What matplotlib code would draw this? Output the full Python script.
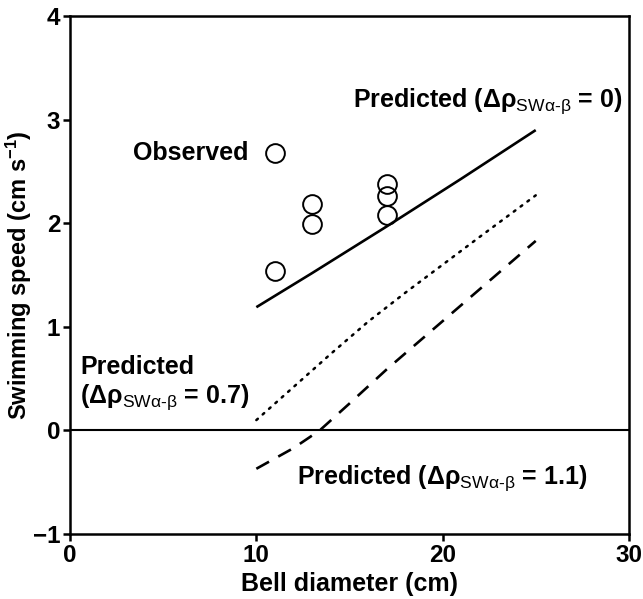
import matplotlib
matplotlib.use("Agg")
import matplotlib.pyplot as plt

plt.rcParams['font.family'] = ['Liberation Sans', 'DejaVu Sans']
plt.rcParams['mathtext.fontset'] = 'custom'
plt.rcParams['mathtext.rm'] = 'Liberation Sans'
plt.rcParams['mathtext.it'] = 'Liberation Sans'
plt.rcParams['mathtext.bf'] = 'Liberation Sans:bold'

# Observed data
obs_x = [11, 11, 13, 13, 17, 17, 17]
obs_y = [2.68, 1.54, 2.19, 1.99, 2.38, 2.26, 2.08]

# Predicted curves
pred0_x = [10, 13, 17, 21, 25]
pred0_y = [1.19, 1.52, 1.97, 2.43, 2.90]

pred07_x = [10, 12, 14, 16, 18, 20, 22, 25]
pred07_y = [0.10, 0.42, 0.74, 1.05, 1.33, 1.60, 1.87, 2.27]

pred11_x = [10, 12, 13.4, 15, 17, 19, 21, 23, 25]
pred11_y = [-0.37, -0.17, 0.0, 0.26, 0.59, 0.90, 1.21, 1.52, 1.83]

xticks = [0, 10, 20, 30]
yticks = [-1, 0, 1, 2, 3, 4]

fig = plt.figure(figsize=(6.43, 5.99), dpi=100)
ax = fig.add_axes([0.109, 0.1085, 0.869, 0.8645])

ax.axhline(0, color='black', lw=1.5, zorder=1)
ax.plot(pred0_x, pred0_y, color='black', lw=1.9, solid_capstyle='butt')
ax.plot(pred07_x, pred07_y, color='black', lw=1.8, linestyle=(0, (0.8, 2.6)), dash_capstyle='round')
ax.plot(pred11_x, pred11_y, color='black', lw=1.9, linestyle=(0, (5.5, 4.0)))
ax.plot(obs_x, obs_y, linestyle='none', marker='o', markersize=13.5,
        markerfacecolor='none', markeredgecolor='black', markeredgewidth=1.4)

ax.set_xlim(0, 30)
ax.set_ylim(-1, 4)
ax.set_xticks(xticks)
ax.set_yticks(yticks)
for s in ax.spines.values():
    s.set_linewidth(1.8)
ax.tick_params(axis='both', direction='out', length=5, width=1.8, labelsize=17.5,
               top=False, right=False, pad=2)
for lab in ax.get_xticklabels() + ax.get_yticklabels():
    lab.set_fontweight('bold')

ax.set_xlabel('Bell diameter (cm)', fontsize=18, fontweight='bold')
ax.set_ylabel(r'Swimming speed (cm s$^{\mathbf{-1}}$)', fontsize=17, fontweight='bold')
ax.xaxis.set_label_coords(0.5, -0.073)
ax.yaxis.set_label_coords(-0.064, 0.5)

sub = r'$_{\mathrm{SW\alpha\text{-}\beta}}$'
fs = 18
ax.text(3.4, 2.68, 'Observed', fontsize=fs, fontweight='bold', va='center', ha='left')
ax.text(15.2, 3.18, 'Predicted (Δρ' + sub + ' = 0)', fontsize=fs, fontweight='bold', va='center', ha='left')
ax.text(0.54, 0.61, 'Predicted', fontsize=fs, fontweight='bold', va='center', ha='left')
ax.text(0.54, 0.32, '(Δρ' + sub + ' = 0.7)', fontsize=fs, fontweight='bold', va='center', ha='left')
ax.text(12.2, -0.46, 'Predicted (Δρ' + sub + ' = 1.1)', fontsize=fs, fontweight='bold', va='center', ha='left')

fig.savefig('out.png', dpi=100)
